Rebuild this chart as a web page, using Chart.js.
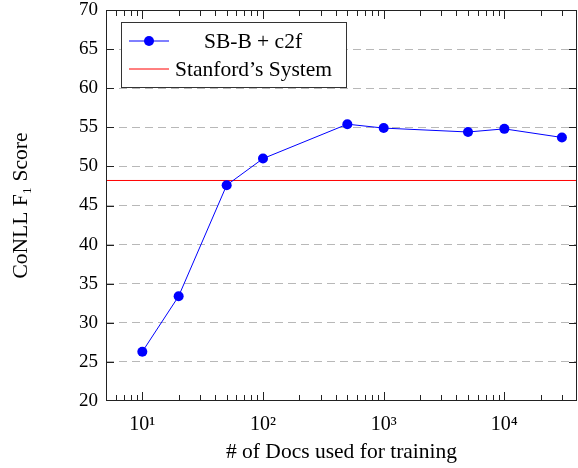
<!DOCTYPE html>
<html>
<head>
<meta charset="utf-8">
<script src="https://cdn.jsdelivr.net/npm/chart.js@4"></script>
<style>
  html, body { margin: 0; padding: 0; background: #fff; }
  #wrap { width: 578px; height: 468px; }
</style>
</head>
<body>
<div id="wrap"><canvas id="chart"></canvas></div>
<script>
const DOCS = [10, 20, 50, 100, 500, 1000, 5000, 10000, 30000];
const SBB_C2F = [26.3, 33.4, 47.6, 51.0, 55.4, 54.9, 54.4, 54.8, 53.7];
const STANFORD = 48.2;
const X_RANGE = [5, 40000];
const X_TICKS = [10, 100, 1000, 10000];
const SUP = { 1: '\u00b9', 2: '\u00b2', 3: '\u00b3', 4: '\u2074' };

const FONT = '"Liberation Serif", "DejaVu Serif", serif';
const BLUE = '#0000ff';
const RED = '#ff0000';

// box, inside ticks and legend drawn on top of the plot
const framePlugin = {
  id: 'frame',
  afterDraw(chart) {
    const { ctx, chartArea: a, scales: { x, y } } = chart;
    ctx.save();
    ctx.strokeStyle = '#222';
    ctx.lineWidth = 1;

    ctx.beginPath();
    // x ticks, major and minor, on bottom and top
    for (let d = 1; d <= 10000; d *= 10) {
      for (let m = 1; m <= 9; m++) {
        const v = d * m;
        if (v <= X_RANGE[0] || v >= X_RANGE[1]) continue;
        const px = Math.round(x.getPixelForValue(v)) + 0.5;
        const len = m === 1 ? 9 : 6;
        ctx.moveTo(px, a.bottom); ctx.lineTo(px, a.bottom - len);
        ctx.moveTo(px, a.top); ctx.lineTo(px, a.top + len);
      }
    }
    // y ticks on left and right
    for (let v = 25; v < 70; v += 5) {
      const py = Math.round(y.getPixelForValue(v)) + 0.5;
      ctx.moveTo(a.left, py); ctx.lineTo(a.left + 8, py);
      ctx.moveTo(a.right, py); ctx.lineTo(a.right - 8, py);
    }
    ctx.stroke();
    ctx.strokeRect(a.left + 0.5, a.top + 0.5, a.right - a.left - 1, a.bottom - a.top - 1);

    // legend
    const lx = a.left + 15, ly = a.top + 12, lw = 225, lh = 65;
    ctx.fillStyle = '#fff';
    ctx.fillRect(lx, ly, lw, lh);
    ctx.strokeStyle = '#333';
    ctx.strokeRect(lx + 0.5, ly + 0.5, lw, lh);

    ctx.font = '21.5px ' + FONT;
    ctx.textBaseline = 'middle';
    const r1 = ly + 19, r2 = ly + 47;
    ctx.strokeStyle = BLUE;
    ctx.beginPath(); ctx.moveTo(lx + 8, r1); ctx.lineTo(lx + 48, r1); ctx.stroke();
    ctx.fillStyle = BLUE;
    ctx.beginPath(); ctx.arc(lx + 28, r1, 5, 0, Math.PI * 2); ctx.fill();
    ctx.fillStyle = '#000';
    ctx.textAlign = 'center';
    ctx.fillText(chart.data.datasets[0].label, lx + 132, r1 + 1);

    ctx.strokeStyle = RED;
    ctx.beginPath(); ctx.moveTo(lx + 8, r2); ctx.lineTo(lx + 48, r2); ctx.stroke();
    ctx.fillStyle = '#000';
    ctx.textAlign = 'left';
    ctx.fillText(chart.data.datasets[1].label, lx + 54, r2 + 1);
    ctx.restore();
  }
};

new Chart(document.getElementById('chart'), {
  type: 'line',
  data: {
    datasets: [
      {
        label: 'SB-B + c2f',
        data: DOCS.map((d, i) => ({ x: d, y: SBB_C2F[i] })),
        borderColor: BLUE,
        backgroundColor: BLUE,
        borderWidth: 1,
        pointRadius: 5,
        pointBorderWidth: 0,
        tension: 0
      },
      {
        label: 'Stanford\u2019s System',
        data: X_RANGE.map(v => ({ x: v, y: STANFORD })),
        borderColor: RED,
        borderWidth: 1,
        pointRadius: 0
      }
    ]
  },
  options: {
    responsive: true,
    maintainAspectRatio: false,
    animation: false,
    layout: { autoPadding: false, padding: { top: 10, right: 1, left: 0, bottom: 0 } },
    plugins: {
      legend: { display: false },
      tooltip: { enabled: false }
    },
    scales: {
      x: {
        type: 'logarithmic',
        min: X_RANGE[0],
        max: X_RANGE[1],
        afterBuildTicks: s => { s.ticks = X_TICKS.map(v => ({ value: v })); },
        afterFit: s => { s.height = 67; s.paddingLeft = 0; s.paddingRight = 0; },
        grid: { display: false, drawTicks: false },
        border: { display: false },
        ticks: {
          padding: 12,
          maxRotation: 0,
          autoSkip: false,
          color: '#000',
          font: { family: FONT, size: 20 },
          callback: v => '10' + SUP[Math.round(Math.log10(v))]
        },
        title: {
          display: true,
          text: '# of Docs used for training',
          color: '#000',
          font: { family: FONT, size: 21.5 },
          padding: { top: 4, bottom: 3 }
        }
      },
      y: {
        min: 20,
        max: 70,
        afterFit: s => { s.width = 106; s.paddingTop = 0; s.paddingBottom = 0; },
        border: { display: false },
        grid: {
          drawTicks: false,
          color: c => (c.tick.value === 20 || c.tick.value === 70) ? 'rgba(0,0,0,0)' : '#b8b8b8',
          lineWidth: 1
        },
        ticks: {
          stepSize: 5,
          padding: 8,
          color: '#000',
          font: { family: FONT, size: 19 }
        },
        title: {
          display: true,
          text: 'CoNLL F\u2081 Score',
          color: '#000',
          font: { family: FONT, size: 21.5 },
          padding: { top: 8, bottom: 0 }
        }
      }
    }
  },
  plugins: [framePlugin, {
    id: 'dashGrid',
    beforeDraw(chart) {
      chart.scales.y.options.grid.borderDash = [8, 5];
      chart.scales.y.options.border.dash = [8, 5];
    }
  }]
});
</script>
</body>
</html>
